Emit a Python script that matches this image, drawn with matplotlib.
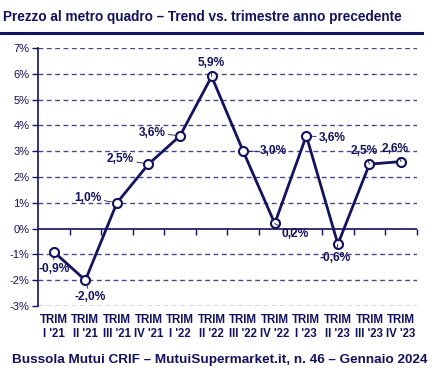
import matplotlib
matplotlib.use('Agg')
import matplotlib.pyplot as plt
from matplotlib.lines import Line2D

# data
quarters = ["TRIM\nI '21", "TRIM\nII '21", "TRIM\nIII '21", "TRIM\nIV '21",
            "TRIM\nI '22", "TRIM\nII '22", "TRIM\nIII '22", "TRIM\nIV '22",
            "TRIM\nI '23", "TRIM\nII '23", "TRIM\nIII '23", "TRIM\nIV '23"]
trend = [-0.9, -2.0, 1.0, 2.5, 3.6, 5.9, 3.0, 0.2, 3.6, -0.6, 2.5, 2.6]
y_ticks = [-3, -2, -1, 0, 1, 2, 3, 4, 5, 6, 7]

# label offsets in pixels (dx, dy)
offsets = [(0, -17), (5, -17), (-29, 5), (-28, 5), (-28, 3), (0, 13),
           (30, 0), (20, -11), (26, -2), (-3, -14), (-5, 13), (-6, 13)]

navy = '#12125e'
grid_col = '#4a4a86'
plt.rcParams['font.family'] = ['Liberation Sans', 'DejaVu Sans']

fig = plt.figure(figsize=(4.42, 3.7), dpi=100)
fig.set_facecolor('white')
ax = fig.add_axes([0.086, 0.173, 0.857, 0.697])

x = list(range(len(trend)))
ax.set_xlim(-0.5, len(trend) - 0.5)
ax.set_ylim(-3, 7)

for v in y_ticks:
    if v != 0:
        ax.axhline(v, color=grid_col, lw=1, ls=(0, (3.5, 2.5)), zorder=1)
ax.axhline(0, color=navy, lw=1.2, zorder=1)

ax.plot(x, trend, color=navy, lw=2.0, marker='o', ms=6.5, mfc='white',
        mec=navy, mew=1.5, zorder=3)

for xi, v, (dx, dy) in zip(x, trend, offsets):
    lab = ('%.1f%%' % v).replace('.', ',')
    ax.annotate(lab, (xi, v), xytext=(dx, dy), textcoords='offset pixels',
                ha='center', va='center', fontsize=8.6, fontweight='bold',
                color=navy, zorder=4,
                arrowprops=dict(arrowstyle='-', color=navy, lw=0.6,
                                shrinkA=0, shrinkB=4))

# y axis
ax.set_yticks(y_ticks)
ax.set_yticklabels(['%d%%' % v for v in y_ticks])
ax.tick_params(axis='y', colors=navy, labelcolor=navy, labelsize=8,
               length=4, width=1, direction='out', pad=2)
ax.spines['left'].set_color(navy)
ax.spines['left'].set_linewidth(1.2)
ax.spines['top'].set_visible(False)
ax.spines['right'].set_visible(False)

# x axis at zero with boundary ticks
ax.spines['bottom'].set_position(('data', 0))
ax.spines['bottom'].set_visible(False)
ax.set_xticks([i + 0.5 for i in x])
ax.set_xticklabels([])
ax.tick_params(axis='x', colors=navy, length=4, width=1, direction='out')

sec = ax.secondary_xaxis('bottom')
sec.set_xticks(x)
sec.set_xticklabels(quarters, fontweight='bold', fontsize=8.3, color=navy,
                    linespacing=1.15)
sec.tick_params(length=0, pad=6)
sec.spines['bottom'].set_visible(False)

fig.text(0.007, 0.954, 'Prezzo al metro quadro \u2013 Trend vs. trimestre anno precedente',
         fontsize=9.8, fontweight='bold', color=navy, va='center')
fig.add_artist(Line2D([0, 0.955], [0.911, 0.911], color=navy, lw=2.2))
fig.text(0.027, 0.027, 'Bussola Mutui CRIF \u2013 MutuiSupermarket.it, n. 46 \u2013 Gennaio 2024',
         fontsize=9.7, fontweight='bold', color=navy, va='center')

fig.savefig('out.png', dpi=100)
